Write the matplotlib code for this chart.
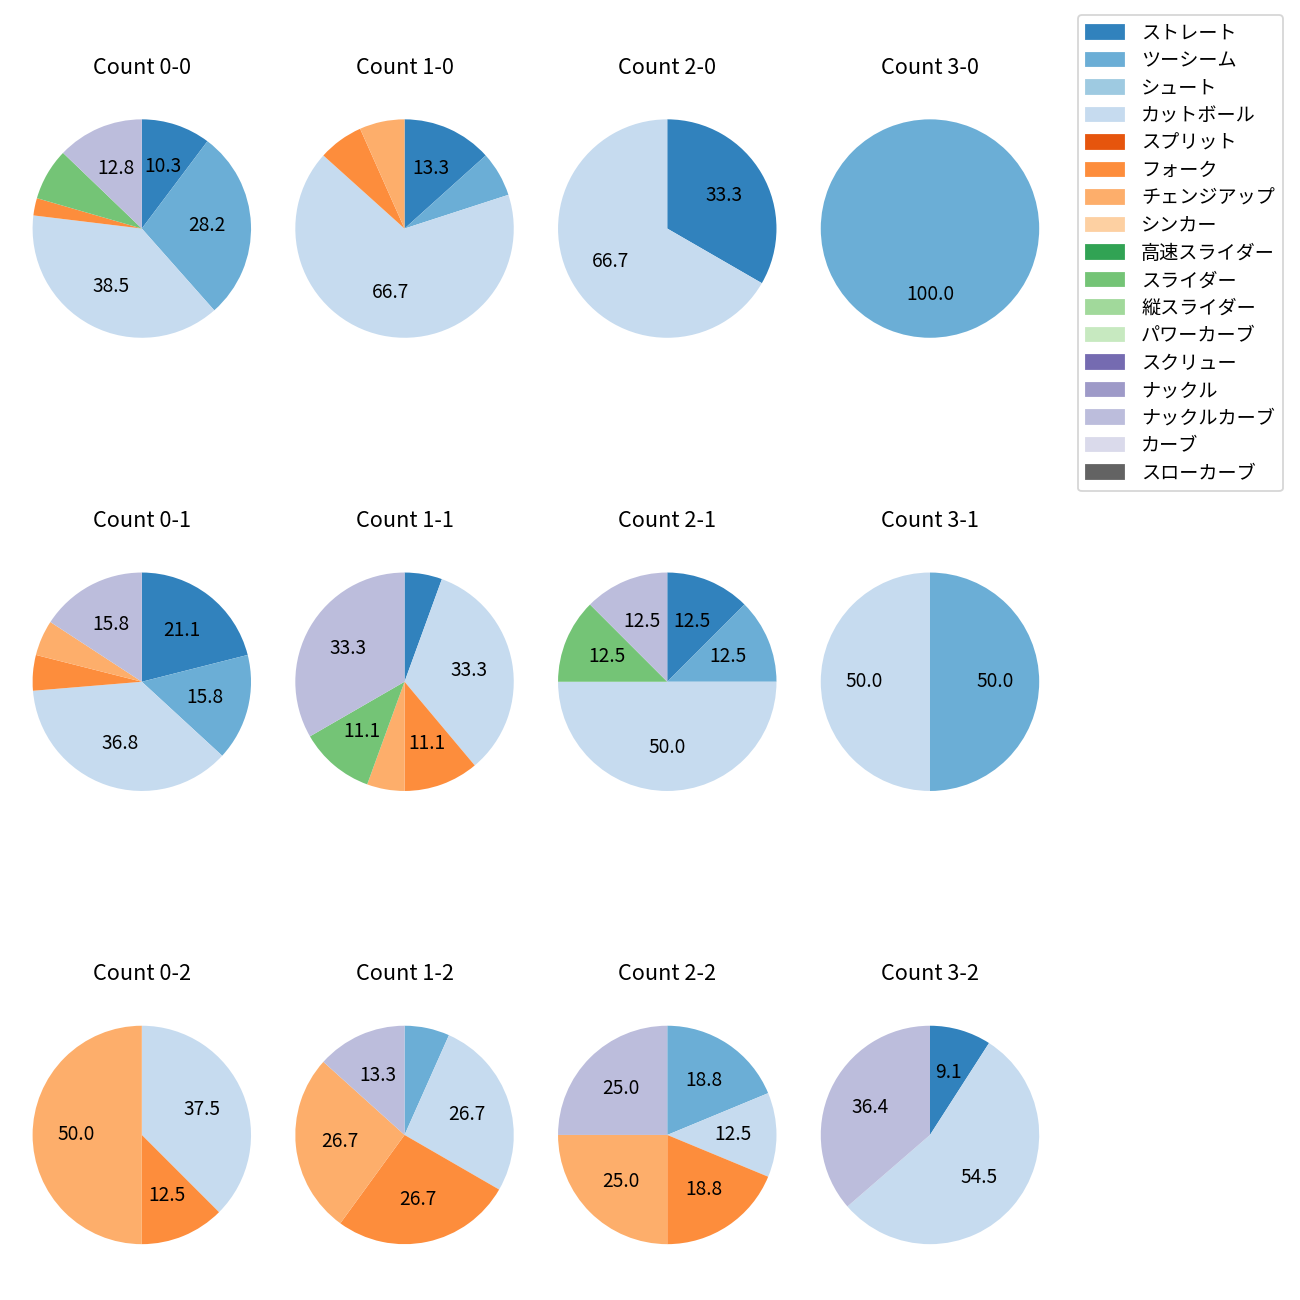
import matplotlib
matplotlib.use('Agg')
import matplotlib.pyplot as plt
from matplotlib.patches import Patch

plt.rcParams['font.family'] = ['Noto Sans CJK JP', 'DejaVu Sans']

pitch_types = ['ストレート', 'ツーシーム', 'シュート', 'カットボール', 'スプリット', 'フォーク',
               'チェンジアップ', 'シンカー', '高速スライダー', 'スライダー', '縦スライダー',
               'パワーカーブ', 'スクリュー', 'ナックル', 'ナックルカーブ', 'カーブ', 'スローカーブ']

count_labels = ['0-0', '1-0', '2-0', '3-0',
                '0-1', '1-1', '2-1', '3-1',
                '0-2', '1-2', '2-2', '3-2']

# pitches thrown per type in each count (same order as pitch_types)
count_0_0 = [4, 11, 0, 15, 0, 1, 0, 0, 0, 3, 0, 0, 0, 0, 5, 0, 0]
count_1_0 = [2, 1, 0, 10, 0, 1, 1, 0, 0, 0, 0, 0, 0, 0, 0, 0, 0]
count_2_0 = [1, 0, 0, 2, 0, 0, 0, 0, 0, 0, 0, 0, 0, 0, 0, 0, 0]
count_3_0 = [0, 1, 0, 0, 0, 0, 0, 0, 0, 0, 0, 0, 0, 0, 0, 0, 0]
count_0_1 = [4, 3, 0, 7, 0, 1, 1, 0, 0, 0, 0, 0, 0, 0, 3, 0, 0]
count_1_1 = [1, 0, 0, 6, 0, 2, 1, 0, 0, 2, 0, 0, 0, 0, 6, 0, 0]
count_2_1 = [1, 1, 0, 4, 0, 0, 0, 0, 0, 1, 0, 0, 0, 0, 1, 0, 0]
count_3_1 = [0, 1, 0, 1, 0, 0, 0, 0, 0, 0, 0, 0, 0, 0, 0, 0, 0]
count_0_2 = [0, 0, 0, 3, 0, 1, 4, 0, 0, 0, 0, 0, 0, 0, 0, 0, 0]
count_1_2 = [0, 1, 0, 4, 0, 4, 4, 0, 0, 0, 0, 0, 0, 0, 2, 0, 0]
count_2_2 = [0, 3, 0, 2, 0, 3, 4, 0, 0, 0, 0, 0, 0, 0, 4, 0, 0]
count_3_2 = [1, 0, 0, 6, 0, 0, 0, 0, 0, 0, 0, 0, 0, 0, 4, 0, 0]

all_counts = [count_0_0, count_1_0, count_2_0, count_3_0,
              count_0_1, count_1_1, count_2_1, count_3_1,
              count_0_2, count_1_2, count_2_2, count_3_2]

cmap = plt.get_cmap('tab20c')
colors = [cmap(i) for i in range(len(pitch_types))]


def pct_label(p):
    return '%.1f' % p if p >= 8 else ''


fig, axes = plt.subplots(3, 4, figsize=(10, 10), dpi=130)
plt.subplots_adjust(left=0.00804, right=0.81642, top=0.93577, bottom=0.01538,
                    wspace=0, hspace=0.5621)

for ax, lab, vals in zip(axes.flat, count_labels, all_counts):
    v = [x for x in vals if x > 0]
    c = [colors[i] for i, x in enumerate(vals) if x > 0]
    ax.pie(v, colors=c, startangle=90, counterclock=False,
           autopct=pct_label, textprops={'fontsize': 10.6})
    ax.set_xlim(-1.2028, 1.2028)
    ax.set_ylim(-1.3278, 1.3278)
    ax.set_title('Count ' + lab, fontsize=12, pad=5.5)

handles = [Patch(color=colors[i]) for i in range(len(pitch_types))]
fig.legend(handles, pitch_types, loc='upper right',
           bbox_to_anchor=(1282.7 / 1300, 1 - 15 / 1300), borderaxespad=0,
           labelspacing=0.34, handletextpad=0.9, fontsize=10.6)

plt.savefig('out.png', dpi=130)
